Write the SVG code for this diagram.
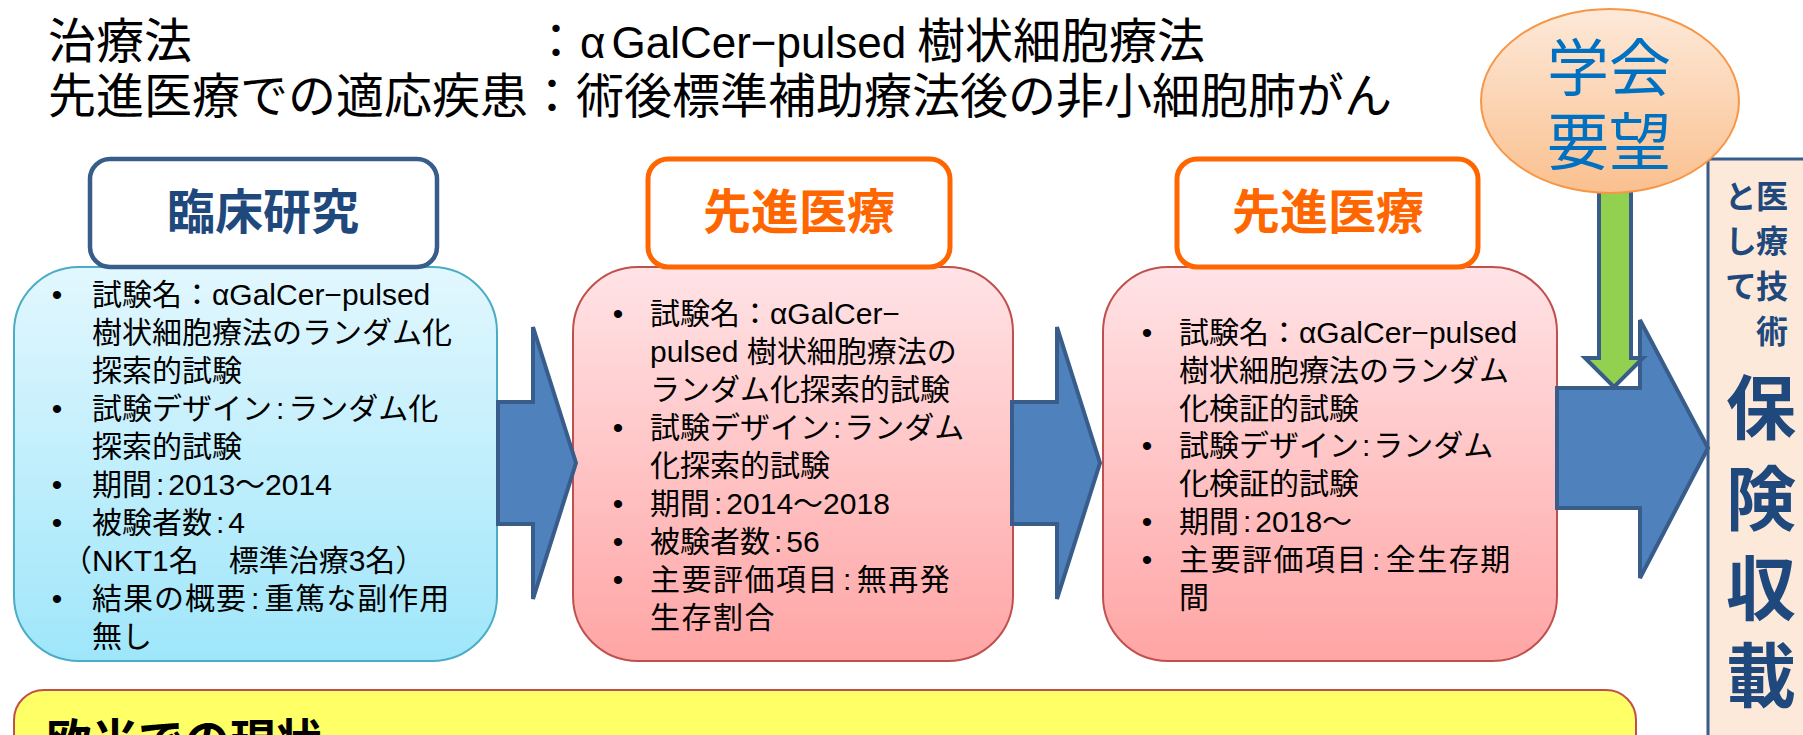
<svg xmlns="http://www.w3.org/2000/svg" width="1803" height="735" viewBox="0 0 1803 735">
<defs>
<linearGradient id="gBlue" x1="0" y1="0" x2="0" y2="1"><stop offset="0" stop-color="#E2F7FE"/><stop offset="1" stop-color="#9FE6FA"/></linearGradient>
<linearGradient id="gPink" x1="0" y1="0" x2="0" y2="1"><stop offset="0" stop-color="#FFE3E6"/><stop offset="1" stop-color="#FFA5A5"/></linearGradient>
<linearGradient id="gOval" x1="0" y1="0" x2="0" y2="1"><stop offset="0" stop-color="#FDE9D9"/><stop offset="1" stop-color="#FAC08F"/></linearGradient>
<style>
.t{font-family:"Liberation Sans","Noto Sans CJK JP",sans-serif;font-size:30px;fill:#000}
.b{font-family:"Liberation Sans",sans-serif;font-size:30px;fill:#000;text-anchor:middle}
.ttl{font-family:"Noto Sans CJK JP","Liberation Sans",sans-serif;font-size:48px;fill:#000}
.hd{font-family:"Noto Sans CJK JP",sans-serif;font-size:48px;font-weight:bold;text-anchor:middle}
.arrow{fill:#4F81BD;stroke:#385D8A;stroke-width:4;stroke-linejoin:miter}
.pink{fill:url(#gPink);stroke:#C0504D;stroke-width:2}
.ohd{fill:#fff;stroke:#FF6600;stroke-width:5}
.vt{font-family:"Noto Sans CJK JP",sans-serif;font-size:32px;font-weight:bold;fill:#1F497D;writing-mode:vertical-rl;letter-spacing:13px}
.ls1{letter-spacing:1px}
.ls2{letter-spacing:1.5px}
</style>
</defs>
<rect width="1803" height="735" fill="#fff"/>

<g id="title">
<text class="ttl" x="48" y="58">治療法</text>
<text class="ttl" x="532" y="58">：<tspan font-family="Liberation Sans" font-size="44">α</tspan><tspan font-family="Liberation Sans" font-size="44" dx="6">GalCer−pulsed</tspan> 樹状細胞療法</text>
<text class="ttl" x="48" y="113">先進医療での適応疾患：術後標準補助療法後の非小細胞肺がん</text>
</g>

<g id="insurance">
<rect x="1708" y="159" width="110" height="600" fill="#FDE9D9" stroke="#385D8A" stroke-width="3"/>
<text class="vt" x="1772" y="180">医療技術</text>
<text class="vt" x="1741" y="180">として</text>
<g font-family="Noto Sans CJK JP,sans-serif" font-size="70" font-weight="bold" fill="#1F497D" text-anchor="middle">
<text x="1761" y="434">保</text>
<text x="1761" y="525">険</text>
<text x="1761" y="615">収</text>
<text x="1761" y="702">載</text>
</g>
</g>

<g id="clinical">
<rect x="14" y="267" width="483" height="394" rx="65" fill="url(#gBlue)" stroke="#4BACC6" stroke-width="2"/>
<rect x="90" y="159" width="347" height="108" rx="20" fill="#fff" stroke="#385D8A" stroke-width="4.5"/>
<text class="hd" x="263" y="229" fill="#1F497D">臨床研究</text>
<text class="b" x="57" y="305">•</text>
<text class="t" x="92" y="305">試験名：αGalCer−pulsed</text>
<text class="t" x="92" y="343">樹状細胞療法のランダム化</text>
<text class="t" x="92" y="381">探索的試験</text>
<text class="b" x="57" y="419">•</text>
<text class="t" x="92" y="419">試験デザイン<tspan dx="4">:</tspan><tspan dx="4">ランダム化</tspan></text>
<text class="t" x="92" y="457">探索的試験</text>
<text class="b" x="57" y="495">•</text>
<text class="t" x="92" y="495">期間<tspan dx="4">:</tspan><tspan dx="4">2013〜2014</tspan></text>
<text class="b" x="57" y="533">•</text>
<text class="t" x="92" y="533">被験者数<tspan dx="4">:</tspan><tspan dx="4">4</tspan></text>
<text class="t" x="62" y="571">（NKT1名　標準治療3名）</text>
<text class="b" x="57" y="609">•</text>
<text class="t ls1" x="92" y="609">結果の概要<tspan dx="4">:</tspan><tspan dx="4">重篤な副作用</tspan></text>
<text class="t" x="92" y="647">無し</text>
</g>

<g id="advanced1">
<rect class="pink" x="573" y="267" width="440" height="394" rx="65"/>
<rect class="ohd" x="648" y="159" width="302" height="108" rx="20"/>
<text class="hd" x="799" y="229" fill="#FF6600">先進医療</text>
<text class="b" x="618" y="324">•</text>
<text class="t" x="650" y="324">試験名：αGalCer−</text>
<text class="t" x="650" y="362">pulsed 樹状細胞療法の</text>
<text class="t" x="650" y="400">ランダム化探索的試験</text>
<text class="b" x="618" y="438">•</text>
<text class="t" x="650" y="438">試験デザイン<tspan dx="3">:</tspan><tspan dx="3">ランダム</tspan></text>
<text class="t" x="650" y="476">化探索的試験</text>
<text class="b" x="618" y="514">•</text>
<text class="t" x="650" y="514">期間<tspan dx="4">:</tspan><tspan dx="4">2014〜2018</tspan></text>
<text class="b" x="618" y="552">•</text>
<text class="t" x="650" y="552">被験者数<tspan dx="4">:</tspan><tspan dx="4">56</tspan></text>
<text class="b" x="618" y="590">•</text>
<text class="t ls2" x="650" y="590">主要評価項目<tspan dx="4">:</tspan><tspan dx="4">無再発</tspan></text>
<text class="t ls2" x="650" y="628">生存割合</text>
</g>

<g id="advanced2">
<rect class="pink" x="1103" y="267" width="454" height="394" rx="65"/>
<rect class="ohd" x="1177" y="159" width="301" height="108" rx="20"/>
<text class="hd" x="1328" y="229" fill="#FF6600">先進医療</text>
<text class="b" x="1147" y="343">•</text>
<text class="t" x="1179" y="343">試験名：αGalCer−pulsed</text>
<text class="t" x="1179" y="381">樹状細胞療法のランダム</text>
<text class="t" x="1179" y="419">化検証的試験</text>
<text class="b" x="1147" y="456">•</text>
<text class="t" x="1179" y="456">試験デザイン<tspan dx="3">:</tspan><tspan dx="3">ランダム</tspan></text>
<text class="t" x="1179" y="494">化検証的試験</text>
<text class="b" x="1147" y="532">•</text>
<text class="t" x="1179" y="532">期間<tspan dx="4">:</tspan><tspan dx="4">2018〜</tspan></text>
<text class="b" x="1147" y="570">•</text>
<text class="t ls2" x="1179" y="570">主要評価項目<tspan dx="4">:</tspan><tspan dx="4">全生存期</tspan></text>
<text class="t" x="1179" y="608">間</text>
</g>

<g id="connectors">
<path class="arrow" d="M498,402 H533 V327 L576,463 L533,599 V524 H498 Z"/>
<path class="arrow" d="M1012,402 H1057 V327 L1100,463 L1057,599 V524 H1012 Z"/>
<path class="arrow" d="M1557,388 H1640 V320 L1708,448 L1640,578 V508 H1557 Z"/>
<path d="M1599,185 H1631 V358 H1643 L1614,387 L1585,358 H1599 Z" fill="#92D050" stroke="#385D8A" stroke-width="4"/>
</g>

<g id="society">
<ellipse cx="1610" cy="101" rx="129" ry="92" fill="url(#gOval)" stroke="#F79646" stroke-width="2"/>
<g font-family="Noto Sans CJK JP,sans-serif" font-size="62" fill="#0070C0" text-anchor="middle">
<text x="1609" y="91">学会</text>
<text x="1609" y="165">要望</text>
</g>
</g>

<g id="overseas">
<rect x="14" y="690" width="1622" height="120" rx="30" fill="#FFFF66" stroke="#C0504D" stroke-width="2"/>
<text x="46" y="757" font-family="Noto Sans CJK JP,sans-serif" font-size="46" font-weight="bold" fill="#000">欧米での現状</text>
</g>
</svg>
